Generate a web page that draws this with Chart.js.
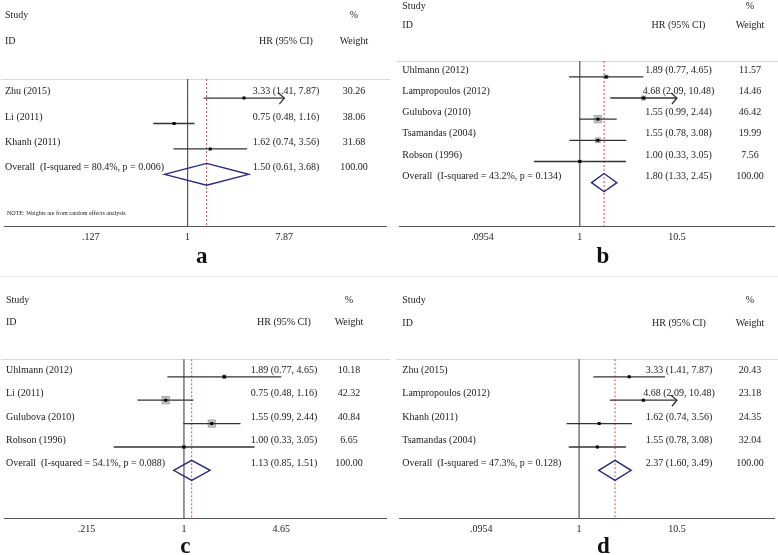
<!DOCTYPE html>
<html>
<head>
<meta charset="utf-8">
<script src="https://cdn.jsdelivr.net/npm/chart.js@4.4.1/dist/chart.umd.min.js"></script>
<style>
  body { margin: 0; background: #fff; }
  #wrap { position: relative; width: 778px; height: 555px; overflow: hidden; }
  #wrap canvas { position: absolute; }
  .sep { position: absolute; left: 0; top: 276px; width: 778px; height: 1px; background: #ededed; }
</style>
</head>
<body>
<div id="wrap">
  <canvas id="pa" width="390" height="277" style="left:0;top:0"></canvas>
  <canvas id="pb" width="388" height="277" style="left:390px;top:0"></canvas>
  <canvas id="pc" width="390" height="278" style="left:0;top:277px"></canvas>
  <canvas id="pd" width="388" height="278" style="left:390px;top:277px"></canvas>
  <div class="sep"></div>
</div>
<script>
// ---- panel a ----
const studiesA = ['Zhu (2015)', 'Li (2011)', 'Khanh (2011)'];
const hrA = [3.33, 0.75, 1.62];
const lowA = [1.41, 0.48, 0.74];
const highA = [7.87, 1.16, 3.56];
const weightA = [30.26, 38.06, 31.68];
const offScaleA = [true, false, false];   // CI runs past the axis -> arrow
const overallA = [1.50, 0.61, 3.68];
const hetA = 'Overall  (I-squared = 80.4%, p = 0.006)';
const ticksA = [0.127, 1, 7.87];
const tickLabelsA = ['.127', '1', '7.87'];

// ---- panel b ----
const studiesB = ['Uhlmann (2012)', 'Lampropoulos (2012)', 'Gulubova (2010)', 'Tsamandas (2004)', 'Robson (1996)'];
const hrB = [1.89, 4.68, 1.55, 1.55, 1.00];
const lowB = [0.77, 2.09, 0.99, 0.78, 0.33];
const highB = [4.65, 10.48, 2.44, 3.08, 3.05];
const weightB = [11.57, 14.46, 46.42, 19.99, 7.56];
const offScaleB = [false, true, false, false, false];
const overallB = [1.80, 1.33, 2.45];
const hetB = 'Overall  (I-squared = 43.2%, p = 0.134)';
const ticksB = [0.0954, 1, 10.5];
const tickLabelsB = ['.0954', '1', '10.5'];

// ---- panel c ----
const studiesC = ['Uhlmann (2012)', 'Li (2011)', 'Gulubova (2010)', 'Robson (1996)'];
const hrC = [1.89, 0.75, 1.55, 1.00];
const lowC = [0.77, 0.48, 0.99, 0.33];
const highC = [4.65, 1.16, 2.44, 3.05];
const weightC = [10.18, 42.32, 40.84, 6.65];
const offScaleC = [false, false, false, false];
const overallC = [1.13, 0.85, 1.51];
const hetC = 'Overall  (I-squared = 54.1%, p = 0.088)';
const ticksC = [0.215, 1, 4.65];
const tickLabelsC = ['.215', '1', '4.65'];

// ---- panel d ----
const studiesD = ['Zhu (2015)', 'Lampropoulos (2012)', 'Khanh (2011)', 'Tsamandas (2004)'];
const hrD = [3.33, 4.68, 1.62, 1.55];
const lowD = [1.41, 2.09, 0.74, 0.78];
const highD = [7.87, 10.48, 3.56, 3.08];
const weightD = [20.43, 23.18, 24.35, 32.04];
const offScaleD = [false, true, false, false];
const overallD = [2.37, 1.60, 3.49];
const hetD = 'Overall  (I-squared = 47.3%, p = 0.128)';
const ticksD = [0.0954, 1, 10.5];
const tickLabelsD = ['.0954', '1', '10.5'];

const SERIF = '"Liberation Serif", "Times New Roman", serif';
const TXT = '#222';

// layout per panel, local canvas pixels
const panels = [
  { id: 'pa', letter: 'a', studies: studiesA, hr: hrA, low: lowA, high: highA, weight: weightA, off: offScaleA, overall: overallA, het: hetA, ticks: ticksA, tickLabels: tickLabelsA, note: true,
    lay: { w: 390, h: 277, top: 79, axisY: 226.5, left: 3, onePx: 189, hiPx: 287, textX: 5, hrX: 286, wX: 354, studyY: 15, idY: 41, letterX: 201.7, letterY: 263.3, box: 0 } },
  { id: 'pb', letter: 'b', studies: studiesB, hr: hrB, low: lowB, high: highB, weight: weightB, off: offScaleB, overall: overallB, het: hetB, ticks: ticksB, tickLabels: tickLabelsB, note: false,
    lay: { w: 388, h: 277, top: 61, axisY: 226, left: 9, onePx: 191.7, hiPx: 290, textX: 12.3, hrX: 288.5, wX: 360, studyY: 6, idY: 25, letterX: 213, letterY: 263.3, box: 1.15 } },
  { id: 'pc', letter: 'c', studies: studiesC, hr: hrC, low: lowC, high: highC, weight: weightC, off: offScaleC, overall: overallC, het: hetC, ticks: ticksC, tickLabels: tickLabelsC, note: false,
    lay: { w: 390, h: 278, top: 82.3, axisY: 241.3, left: 3, onePx: 185.3, hiPx: 284, textX: 6, hrX: 284, wX: 349, studyY: 23.7, idY: 45.7, letterX: 185.3, letterY: 276.3, box: 1.26 } },
  { id: 'pd', letter: 'd', studies: studiesD, hr: hrD, low: lowD, high: highD, weight: weightD, off: offScaleD, overall: overallD, het: hetD, ticks: ticksD, tickLabels: tickLabelsD, note: false,
    lay: { w: 388, h: 278, top: 82.3, axisY: 241.3, left: 9, onePx: 191, hiPx: 290, textX: 12.3, hrX: 289, wX: 360, studyY: 23.5, idY: 46.3, letterX: 213.3, letterY: 276.3, box: 0 } }
];

function ci(a, b, c) {
  return a.toFixed(2) + ' (' + b.toFixed(2) + ', ' + c.toFixed(2) + ')';
}

function forestPlugin(P) {
  const L = P.lay;
  const n = P.studies.length;
  const tickHi = P.ticks[P.ticks.length - 1];
  const tickLo = P.ticks[0];
  return {
    id: 'forest',
    beforeDatasetsDraw(chart) {
      const ctx = chart.ctx, x = chart.scales.x, y = chart.scales.y, ca = chart.chartArea;
      ctx.save();
      // header rule
      ctx.strokeStyle = '#d9d9d9';
      ctx.lineWidth = 1;
      ctx.beginPath();
      ctx.moveTo(ca.left - 3, Math.round(ca.top) + 0.5);
      ctx.lineTo(chart.width, Math.round(ca.top) + 0.5);
      ctx.stroke();
      // line of no effect
      const x1 = x.getPixelForValue(1);
      ctx.strokeStyle = '#555';
      ctx.lineWidth = 1.2;
      ctx.beginPath();
      ctx.moveTo(x1, ca.top);
      ctx.lineTo(x1, ca.bottom);
      ctx.stroke();
      // overall estimate, dotted
      const xo = x.getPixelForValue(P.overall[0]);
      ctx.strokeStyle = '#d04a4a';
      ctx.lineWidth = 1;
      ctx.setLineDash([2, 2]);
      ctx.beginPath();
      ctx.moveTo(xo, ca.top);
      ctx.lineTo(xo, ca.bottom);
      ctx.stroke();
      ctx.setLineDash([]);
      // studies
      for (let i = 0; i < n; i++) {
        const py = y.getPixelForValue(i);
        const pe = x.getPixelForValue(P.hr[i]);
        if (L.box > 0) {
          const s = Math.sqrt(L.box * P.weight[i]);
          ctx.fillStyle = '#c4c4c4';
          ctx.strokeStyle = '#9c9c9c';
          ctx.lineWidth = 0.8;
          ctx.fillRect(pe - s / 2, py - s / 2, s, s);
          ctx.strokeRect(pe - s / 2, py - s / 2, s, s);
        }
        const xa = x.getPixelForValue(Math.max(P.low[i], tickLo));
        const xb = x.getPixelForValue(Math.min(P.high[i], tickHi));
        ctx.strokeStyle = '#333';
        ctx.lineWidth = 1.3;
        ctx.beginPath();
        ctx.moveTo(xa, py);
        ctx.lineTo(xb, py);
        ctx.stroke();
        if (P.off[i]) {
          ctx.beginPath();
          ctx.moveTo(xb - 6, py - 5);
          ctx.lineTo(xb, py);
          ctx.lineTo(xb - 5, py + 6);
          ctx.stroke();
        }
      }
      // pooled diamond
      const dy = y.getPixelForValue(n);
      const hh = Math.abs(y.getPixelForValue(n + 0.43) - dy);
      ctx.strokeStyle = '#27277f';
      ctx.lineWidth = 1.4;
      ctx.beginPath();
      ctx.moveTo(x.getPixelForValue(P.overall[1]), dy);
      ctx.lineTo(xo, dy - hh);
      ctx.lineTo(x.getPixelForValue(P.overall[2]), dy);
      ctx.lineTo(xo, dy + hh);
      ctx.closePath();
      ctx.stroke();
      ctx.restore();
    },
    afterDraw(chart) {
      const ctx = chart.ctx, y = chart.scales.y;
      ctx.save();
      ctx.fillStyle = TXT;
      ctx.font = '10px ' + SERIF;
      ctx.textBaseline = 'middle';
      ctx.textAlign = 'left';
      ctx.fillText('Study', L.textX, L.studyY);
      ctx.fillText('ID', L.textX, L.idY);
      ctx.textAlign = 'center';
      ctx.fillText('%', L.wX, L.studyY);
      ctx.fillText('HR (95% CI)', L.hrX, L.idY);
      ctx.fillText('Weight', L.wX, L.idY);
      for (let i = 0; i <= n; i++) {
        const ty = y.getPixelForValue(i) - 6.5;
        const last = i === n;
        ctx.textAlign = 'left';
        ctx.fillText(last ? P.het : P.studies[i], L.textX, ty);
        ctx.textAlign = 'center';
        ctx.fillText(last ? ci(P.overall[0], P.overall[1], P.overall[2]) : ci(P.hr[i], P.low[i], P.high[i]), L.hrX, ty);
        ctx.fillText(last ? '100.00' : P.weight[i].toFixed(2), L.wX, ty);
      }
      if (P.note) {
        ctx.textAlign = 'left';
        ctx.font = '6px ' + SERIF;
        ctx.fillText('NOTE: Weights are from random effects analysis', 7, y.getPixelForValue(n + 1.55));
      }
      ctx.textAlign = 'center';
      ctx.textBaseline = 'alphabetic';
      ctx.font = 'bold 23px ' + SERIF;
      ctx.fillStyle = '#111';
      ctx.fillText(P.letter, L.letterX, L.letterY);
      ctx.restore();
    }
  };
}

function drawPanel(P) {
  const L = P.lay;
  const n = P.studies.length;
  const tickHi = P.ticks[P.ticks.length - 1];
  const ppl = (L.hiPx - L.onePx) / Math.log(tickHi);
  const xmin = Math.exp((L.left - L.onePx) / ppl);
  const xmax = Math.exp((L.w - L.onePx) / ppl);
  const ctx = document.getElementById(P.id).getContext('2d');
  return new Chart(ctx, {
    type: 'scatter',
    data: {
      datasets: [{
        data: P.hr.map((v, i) => ({ x: v, y: i })),
        pointStyle: 'rect',
        pointRadius: 2.1,
        backgroundColor: '#000',
        borderColor: '#000',
        borderWidth: 0
      }]
    },
    options: {
      responsive: false,
      animation: false,
      events: [],
      layout: { padding: { top: L.top, left: L.left, right: 0, bottom: L.h - L.axisY - 22 } },
      plugins: { legend: { display: false }, tooltip: { enabled: false } },
      scales: {
        x: {
          type: 'logarithmic',
          bounds: 'data',
          min: xmin,
          max: xmax,
          grid: { display: false, drawTicks: false, tickLength: 0 },
          border: { display: true, color: '#555', width: 1 },
          afterBuildTicks: s => { s.ticks = P.ticks.map(v => ({ value: v })); },
          ticks: {
            autoSkip: false, maxRotation: 0, padding: 5, color: TXT,
            font: { family: SERIF, size: 10 },
            callback: (v, i) => P.tickLabels[i]
          }
        },
        y: { type: 'linear', display: false, reverse: true, min: -0.75, max: n + 2.05 }
      }
    },
    plugins: [forestPlugin(P)]
  });
}

panels.forEach(drawPanel);
</script>
</body>
</html>
